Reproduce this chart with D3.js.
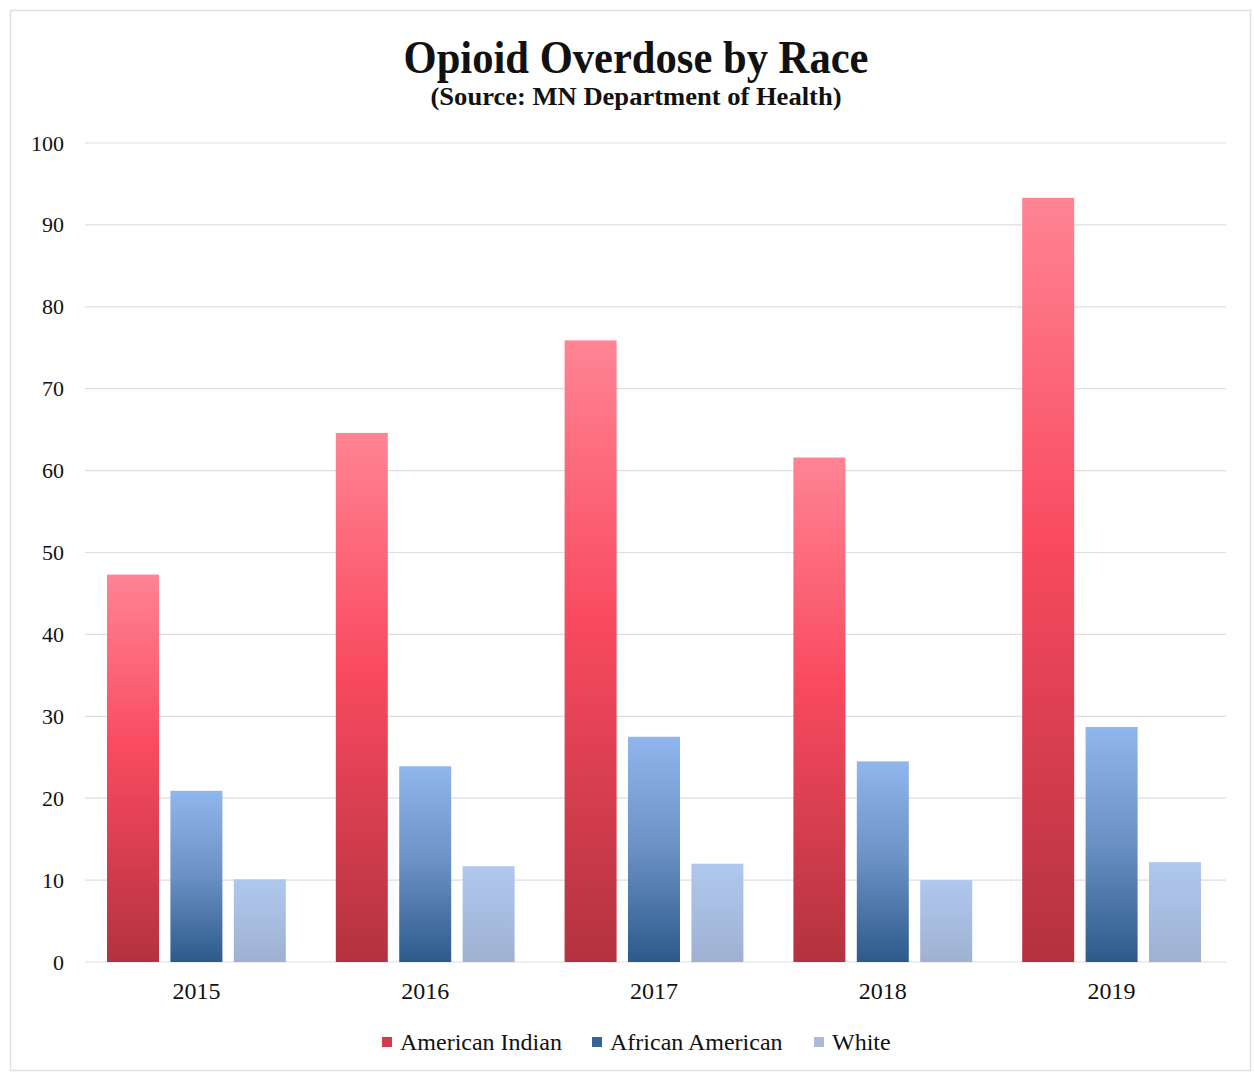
<!DOCTYPE html>
<html>
<head>
<meta charset="utf-8">
<script src="https://cdn.jsdelivr.net/npm/d3@7"></script>
<style>
  html, body { margin: 0; padding: 0; background: #fff; }
  svg { display: block; font-family: "Liberation Serif", "Times New Roman", serif; }
</style>
</head>
<body>
<svg id="chart" width="1254" height="1076"></svg>
<script>
// Opioid overdose rates by race, Minnesota
const years = ["2015", "2016", "2017", "2018", "2019"];
const seriesNames = ["American Indian", "African American", "White"];
const americanIndian = [47.3, 64.6, 75.9, 61.6, 93.3];
const africanAmerican = [20.9, 23.9, 27.5, 24.5, 28.7];
const white = [10.1, 11.7, 12.0, 10.0, 12.2];
const yTicks = [0, 10, 20, 30, 40, 50, 60, 70, 80, 90, 100];

const seriesValues = [americanIndian, africanAmerican, white];

const svg = d3.select("#chart");
const W = 1254, H = 1076;
const margin = { left: 82, right: 28, top: 143, bottom: 114 };
const plotW = W - margin.left - margin.right;
const plotH = H - margin.top - margin.bottom;

// outer frame
svg.append("rect")
  .attr("x", 10.5).attr("y", 10.5)
  .attr("width", W - 14).attr("height", H - 16)
  .attr("fill", "none").attr("stroke", "#e0e0e0").attr("stroke-width", 1.5);

// gradients
const defs = svg.append("defs");
const gradStops = [
  [["0%", "#ff8494"], ["45%", "#f94a5f"], ["100%", "#b3323f"]],
  [["0%", "#90b6ee"], ["50%", "#6a90c4"], ["100%", "#2d5a8b"]],
  [["0%", "#b0c8ee"], ["100%", "#9eb1d2"]]
];
gradStops.forEach((stops, i) => {
  const g = defs.append("linearGradient")
    .attr("id", "grad" + i)
    .attr("x1", 0).attr("y1", 0).attr("x2", 0).attr("y2", 1);
  stops.forEach(s => g.append("stop").attr("offset", s[0]).attr("stop-color", s[1]));
});
const legendColors = ["#d63a4e", "#35639a", "#aabbd8"];

const g = svg.append("g").attr("transform", `translate(${margin.left},${margin.top})`);

const x0 = d3.scaleBand().domain(years).range([0, plotW]).paddingInner(0).paddingOuter(0);
const x1 = d3.scaleBand().domain(seriesNames).range([25, x0.bandwidth() - 25]).paddingInner(0.18).paddingOuter(0);
const y = d3.scaleLinear().domain([0, 100]).range([plotH, 0]);

// gridlines
g.append("g")
  .selectAll("line")
  .data(yTicks)
  .join("line")
  .attr("x1", 3).attr("x2", plotW)
  .attr("y1", d => y(d)).attr("y2", d => y(d))
  .attr("stroke", "#dedede").attr("stroke-width", 1.2);

// y axis labels
const yAxis = g.append("g")
  .call(d3.axisLeft(y).tickValues(yTicks).tickSize(0).tickPadding(18).tickFormat(d3.format("d")));
yAxis.select(".domain").remove();
yAxis.selectAll("text")
  .attr("font-family", "Liberation Serif, serif")
  .attr("font-size", 22)
  .attr("fill", "#111");

// bars
const groups = g.append("g").selectAll("g")
  .data(years)
  .join("g")
  .attr("transform", d => `translate(${x0(d)},0)`);

groups.selectAll("rect")
  .data((d, i) => seriesNames.map((s, k) => ({ series: s, k, value: seriesValues[k][i] })))
  .join("rect")
  .attr("x", d => x1(d.series))
  .attr("width", x1.bandwidth())
  .attr("y", d => y(d.value))
  .attr("height", d => y(0) - y(d.value))
  .attr("fill", d => `url(#grad${d.k})`);

// x axis labels
const xAxis = g.append("g")
  .attr("transform", `translate(0,${plotH})`)
  .call(d3.axisBottom(x0).tickSize(0).tickPadding(20));
xAxis.select(".domain").remove();
xAxis.selectAll("text")
  .attr("font-family", "Liberation Serif, serif")
  .attr("font-size", 24)
  .attr("fill", "#111");

// title
svg.append("text")
  .attr("x", 636).attr("y", 73)
  .attr("text-anchor", "middle")
  .attr("font-size", 46).attr("font-weight", "bold")
  .attr("textLength", 465).attr("lengthAdjust", "spacingAndGlyphs")
  .attr("fill", "#111")
  .text("Opioid Overdose by Race");
svg.append("text")
  .attr("x", 636).attr("y", 105)
  .attr("text-anchor", "middle")
  .attr("font-size", 26).attr("font-weight", "bold")
  .attr("textLength", 411).attr("lengthAdjust", "spacingAndGlyphs")
  .attr("fill", "#111")
  .text("(Source: MN Department of Health)");

// legend
const legendX = [382, 592, 814];
const legend = svg.append("g");
seriesNames.forEach((name, i) => {
  legend.append("rect")
    .attr("x", legendX[i]).attr("y", 1037)
    .attr("width", 10).attr("height", 10)
    .attr("fill", legendColors[i]);
  legend.append("text")
    .attr("x", legendX[i] + 18).attr("y", 1050)
    .attr("font-size", 24)
    .attr("fill", "#111")
    .text(name);
});
</script>
</body>
</html>
